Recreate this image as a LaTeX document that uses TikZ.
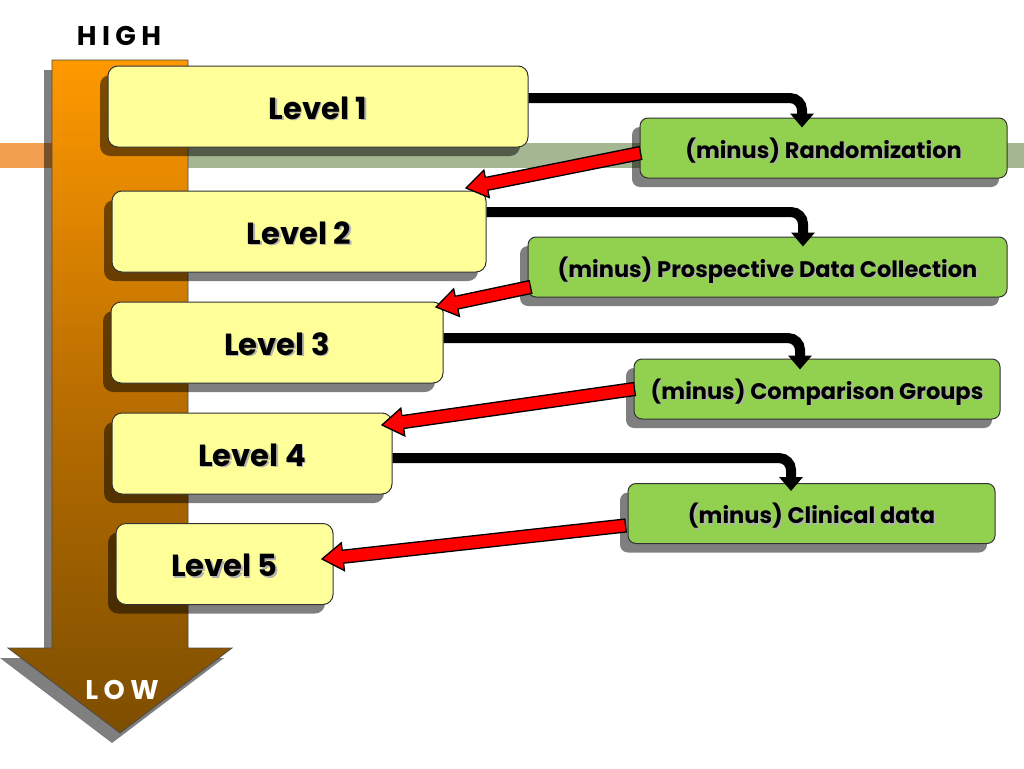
\documentclass[tikz,border=0pt]{standalone}
\usepackage{fontspec}
\setmainfont{Poppins}
\usetikzlibrary{arrows.meta,calc,shadows}
\definecolor{yel}{RGB}{255,255,153}
\definecolor{grn}{RGB}{146,208,80}
\definecolor{org}{RGB}{255,153,0}
\definecolor{brn}{RGB}{125,78,0}
\definecolor{stripL}{RGB}{242,160,80}
\definecolor{stripR}{RGB}{165,182,146}
\definecolor{redarr}{RGB}{255,0,0}
\newcommand\shtxt[1]{\leavevmode\rlap{\kern1.5pt\raisebox{-1.5pt}{\textcolor{black!30}{#1}}}#1}
\newcommand\fatarrow[2]{%
  \coordinate (fab) at ($(#2)!21pt!(#1)$);
  \filldraw[fatarr] ($(#1)!6.5pt!90:(#2)$) -- ($(fab)!6.5pt!90:(#2)$) -- ($(fab)!14pt!90:(#2)$) -- (#2)
    -- ($(fab)!14pt!-90:(#2)$) -- ($(fab)!6.5pt!-90:(#2)$) -- ($(#1)!6.5pt!-90:(#2)$) -- cycle;}
\begin{document}
\begin{tikzpicture}[x=1pt,y=-1pt,
  shad/.style={drop shadow={shadow xshift=-8pt,shadow yshift=-9pt,opacity=0.5,fill=black}},
  levelbox/.style={shad,draw=black!80,line width=1pt,fill=yel,rounded corners=10pt,
     minimum height=81pt,inner sep=0pt,text height=25pt,text depth=0pt,
     font=\bfseries\fontsize{30.5}{33}\selectfont},
  minusbox/.style={shad,draw=black!80,line width=1pt,fill=grn,rounded corners=8pt,
     minimum height=60pt,inner sep=0pt,text height=20pt,text depth=0pt,
     font=\bfseries\fontsize{22.5}{25}\selectfont},
  blk/.style={line width=10pt,rounded corners=12pt,-{Triangle[width=23pt,length=14pt]}},
  fatarr/.style={fill=redarr,draw=black,line width=1.3pt,line join=miter},
  bigarrow/.style={draw=black!70,line width=0.8pt,top color=org,bottom color=brn,middle color={rgb,255:red,185;green,110;blue,0}},
  hilo/.style={font=\bfseries\fontsize{27}{30}\selectfont\addfontfeatures{LetterSpace=20}}]
\useasboundingbox (0,0) rectangle (1024,768);
% horizontal band
\fill[stripL] (0,143) rectangle (60,168);
\fill[stripR] (180,143) rectangle (1024,168);
% big arrow shadow and arrow
\fill[black,opacity=0.5] (44,70) -- (180,70) -- (180,658) -- (224,658) -- (112,743) -- (0,658) -- (44,658) -- cycle;
\path[bigarrow] (52,60) -- (188,60) -- (188,648) -- (232,648) -- (120,733) -- (8,648) -- (52,648) -- cycle;
\node[hilo] (high) at (119,36) {HIGH};
\node[hilo,text=white] (low) at (122,690) {LOW};
% level boxes
\node[levelbox,minimum width=420pt] (L1) at (318,106.5) {\shtxt{Level 1}};
\node[levelbox,minimum width=374pt] (L2) at (299,231.5) {\shtxt{Level 2}};
\node[levelbox,minimum width=332pt] (L3) at (277,342.5) {\shtxt{Level 3}};
\node[levelbox,minimum width=280pt] (L4) at (252,453.5) {\shtxt{Level 4}};
\node[levelbox,minimum width=217pt] (L5) at (224.5,564) {\shtxt{Level 5}};
% minus boxes
\node[minusbox,minimum width=367pt] (G1) at (823.5,148) {\shtxt{(minus) Randomization}};
\node[minusbox,minimum width=479pt] (G2) at (767.5,267) {\shtxt{(minus) Prospective Data Collection}};
\node[minusbox,minimum width=366pt] (G3) at (817,389) {\shtxt{(minus) Comparison Groups}};
\node[minusbox,minimum width=367pt] (G4) at (811.5,513.5) {\shtxt{(minus) Clinical data}};
% black connectors
\coordinate (b1) at (802,98);
\coordinate (b2) at (803,212);
\coordinate (b3) at (800,338);
\coordinate (b4) at (791,458);
\draw[blk] (L1.east |- b1) -- (b1) -- ($(b1 |- G1.north)+(0,10)$);
\draw[blk] (L2.east |- b2) -- (b2) -- ($(b2 |- G2.north)+(0,10)$);
\draw[blk] (L3.east |- b3) -- (b3) -- ($(b3 |- G3.north)+(0,11)$);
\draw[blk] (L4.east |- b4) -- (b4) -- ($(b4 |- G4.north)+(0,8)$);
% red arrows
\coordinate (r1s) at ($(G1.west)+(1,5)$);
\coordinate (r1t) at (466,188);
\coordinate (r2s) at ($(G2.west)+(3,20)$);
\coordinate (r2t) at (436,307);
\coordinate (r3s) at ($(G3.west)+(1,0)$);
\coordinate (r3t) at (382,425);
\coordinate (r4s) at ($(G4.west)+(-2,12)$);
\coordinate (r4t) at (322,559);
\fatarrow{r1s}{r1t}
\fatarrow{r2s}{r2t}
\fatarrow{r3s}{r3t}
\fatarrow{r4s}{r4t}
\end{tikzpicture}
\end{document}
